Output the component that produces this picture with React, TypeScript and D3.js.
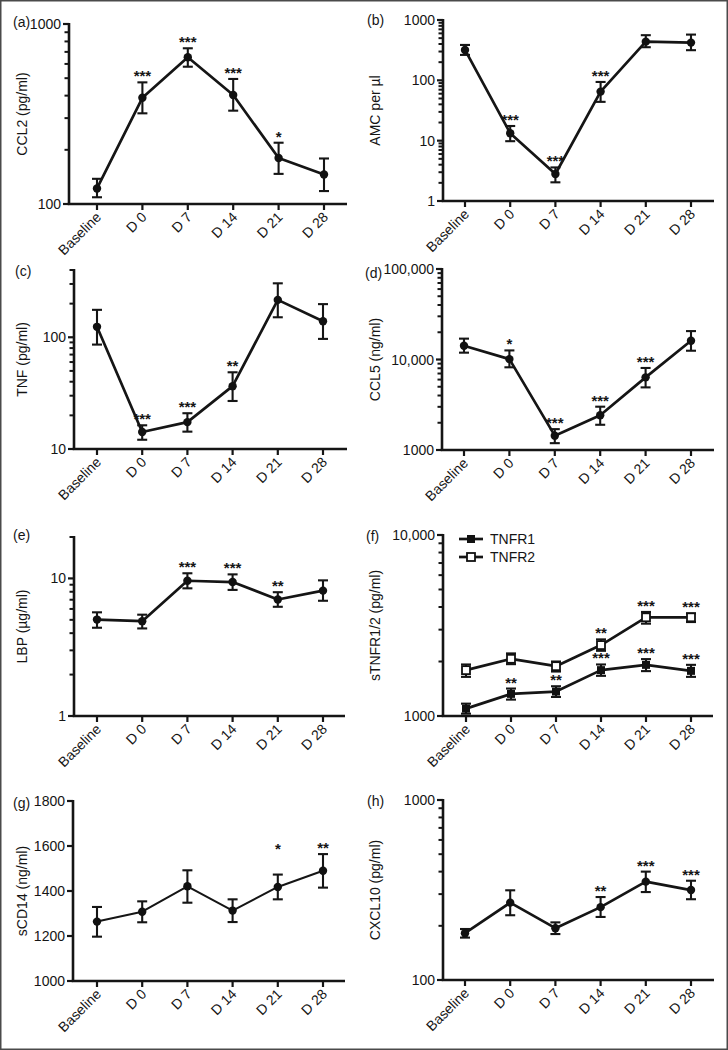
import React from "react";
import * as d3 from "d3";

// ---------- DATA ----------
const days = ["Baseline", "D 0", "D 7", "D 14", "D 21", "D 28"];

const ccl2Mean = [122, 389, 653, 403, 180, 146];
const ccl2Lo = [109, 319, 579, 330, 147, 118];
const ccl2Hi = [138, 474, 733, 495, 219, 179];
const ccl2Sig = ["", "***", "***", "***", "*", ""];

const amcMean = [319, 13.3, 2.8, 65, 438, 422];
const amcLo = [264, 9.8, 2.04, 44, 354, 316];
const amcHi = [386, 17.5, 3.6, 94, 560, 573];
const amcSig = ["", "***", "***", "***", "", ""];

const tnfMean = [124, 14.2, 17.4, 36.5, 216, 139];
const tnfLo = [86, 12.1, 14.3, 26.9, 151, 96.7];
const tnfHi = [176, 16.3, 20.9, 48.6, 304, 198];
const tnfSig = ["", "***", "***", "**", "", ""];

const ccl5Mean = [14200, 10100, 1440, 2420, 6350, 16100];
const ccl5Lo = [11900, 8200, 1190, 1900, 4920, 12500];
const ccl5Hi = [17000, 12600, 1700, 3010, 8060, 20600];
const ccl5Sig = ["", "*", "***", "***", "***", ""];

const lbpMean = [5.02, 4.89, 9.62, 9.41, 7.03, 8.15];
const lbpLo = [4.38, 4.33, 8.47, 8.25, 6.22, 6.88];
const lbpHi = [5.67, 5.45, 10.9, 10.7, 7.94, 9.68];
const lbpSig = ["", "", "***", "***", "**", ""];

const tnfr1Mean = [1098, 1325, 1365, 1792, 1917, 1776];
const tnfr1Lo = [1030, 1232, 1274, 1667, 1770, 1645];
const tnfr1Hi = [1170, 1418, 1460, 1926, 2062, 1917];
const tnfr1Sig = ["", "**", "**", "***", "***", "***"];

const tnfr2Mean = [1792, 2070, 1885, 2465, 3510, 3510];
const tnfr2Lo = [1645, 1934, 1761, 2292, 3237, 3305];
const tnfr2Hi = [1926, 2217, 2000, 2650, 3757, 3690];
const tnfr2Sig = ["", "", "", "**", "***", "***"];

const scd14Mean = [1264, 1308, 1421, 1313, 1418, 1490];
const scd14Lo = [1197, 1261, 1348, 1262, 1363, 1415];
const scd14Hi = [1329, 1354, 1492, 1363, 1473, 1564];
const scd14Sig = ["", "", "", "", "*", "**"];
// value level (data units) where an asterisk is anchored when it is raised above its bar
const scd14SigAt = [null, null, null, null, 1560, null];

const cxcl10Mean = [182, 269, 194, 254, 352, 316];
const cxcl10Lo = [172, 229, 180, 224, 308, 281];
const cxcl10Hi = [192, 315, 209, 289, 400, 356];
const cxcl10Sig = ["", "", "", "**", "***", "***"];

const ticksA = [100, 1000];
const ticksB = [1, 10, 100, 1000];
const ticksC = [10, 100];
const ticksD = [1000, 10000, 100000];
const ticksE = [1, 10];
const ticksF = [1000, 10000];
const ticksG = [1000, 1200, 1400, 1600, 1800];
const ticksH = [100, 1000];

const legendNames = ["TNFR1", "TNFR2"];

// ---------- LAYOUT ----------
const FONT = "'Liberation Sans', Arial, Helvetica, sans-serif";
const FS = 14;

type Series = {
  mean: number[];
  lo: number[];
  hi: number[];
  sig: string[];
  sigAt?: (number | null)[];
  marker: "dot" | "filled" | "open";
};

type PanelCfg = {
  tag: string;
  title: string;
  log: boolean;
  domain: [number, number];
  ticks: number[];
  x0: number;
  x1: number;
  yTop: number;
  yBot: number;
  c0: number;
  c1: number;
  tagX: number;
  tagY: number;
  titleX: number;
  series: Series[];
  lineW: number;
  legend?: boolean;
};

const panels: PanelCfg[] = [
  {
    tag: "(a)", title: "CCL2 (pg/ml)", log: true, domain: [100, 1000], ticks: ticksA,
    x0: 69, x1: 347, yTop: 24, yBot: 204, c0: 97, c1: 324, tagX: 13, tagY: 27, titleX: 22,
    series: [{ mean: ccl2Mean, lo: ccl2Lo, hi: ccl2Hi, sig: ccl2Sig, marker: "dot" }], lineW: 2.7,
  },
  {
    tag: "(b)", title: "AMC per µl", log: true, domain: [1, 1000], ticks: ticksB,
    x0: 443, x1: 714, yTop: 20, yBot: 201, c0: 465, c1: 691, tagX: 367, tagY: 25, titleX: 375,
    series: [{ mean: amcMean, lo: amcLo, hi: amcHi, sig: amcSig, marker: "dot" }], lineW: 2.7,
  },
  {
    tag: "(c)", title: "TNF (pg/ml)", log: true, domain: [10, 400], ticks: ticksC,
    x0: 74, x1: 347, yTop: 270, yBot: 449, c0: 97, c1: 323, tagX: 15, tagY: 276, titleX: 22,
    series: [{ mean: tnfMean, lo: tnfLo, hi: tnfHi, sig: tnfSig, marker: "dot" }], lineW: 2.7,
  },
  {
    tag: "(d)", title: "CCL5 (ng/ml)", log: true, domain: [1000, 100000], ticks: ticksD,
    x0: 442, x1: 714, yTop: 269, yBot: 450, c0: 464, c1: 691, tagX: 365, tagY: 278, titleX: 375,
    series: [{ mean: ccl5Mean, lo: ccl5Lo, hi: ccl5Hi, sig: ccl5Sig, marker: "dot" }], lineW: 2.7,
  },
  {
    tag: "(e)", title: "LBP (µg/ml)", log: true, domain: [1, 20], ticks: ticksE,
    x0: 74, x1: 345, yTop: 537, yBot: 716, c0: 97, c1: 323, tagX: 13, tagY: 540, titleX: 22,
    series: [{ mean: lbpMean, lo: lbpLo, hi: lbpHi, sig: lbpSig, marker: "dot" }], lineW: 2.7,
  },
  {
    tag: "(f)", title: "sTNFR1/2 (pg/ml)", log: true, domain: [1000, 10000], ticks: ticksF,
    x0: 443, x1: 713, yTop: 535, yBot: 716, c0: 466, c1: 691, tagX: 366, tagY: 541, titleX: 375,
    series: [
      { mean: tnfr1Mean, lo: tnfr1Lo, hi: tnfr1Hi, sig: tnfr1Sig, marker: "filled" },
      { mean: tnfr2Mean, lo: tnfr2Lo, hi: tnfr2Hi, sig: tnfr2Sig, marker: "open" },
    ],
    lineW: 2.7, legend: true,
  },
  {
    tag: "(g)", title: "sCD14 (ng/ml)", log: false, domain: [1000, 1800], ticks: ticksG,
    x0: 73, x1: 345, yTop: 801, yBot: 981, c0: 97, c1: 323, tagX: 13, tagY: 808, titleX: 22,
    series: [{ mean: scd14Mean, lo: scd14Lo, hi: scd14Hi, sig: scd14Sig, sigAt: scd14SigAt, marker: "dot" }],
    lineW: 2,
  },
  {
    tag: "(h)", title: "CXCL10 (pg/ml)", log: true, domain: [100, 1000], ticks: ticksH,
    x0: 443, x1: 714, yTop: 800, yBot: 980, c0: 465, c1: 691, tagX: 367, tagY: 806, titleX: 375,
    series: [{ mean: cxcl10Mean, lo: cxcl10Lo, hi: cxcl10Hi, sig: cxcl10Sig, marker: "dot" }], lineW: 2.7,
  },
];

const fmtBig = d3.format(",");
const fmt = (v: number) => (v >= 10000 ? fmtBig(v) : String(v));

function minorTicks(domain: [number, number]): number[] {
  const out: number[] = [];
  const [lo, hi] = domain;
  for (let p = Math.floor(Math.log10(lo)); p <= Math.ceil(Math.log10(hi)); p++) {
    const base = Math.pow(10, p);
    for (let m = 2; m <= 9; m++) {
      const v = m * base;
      if (v > lo && v <= hi * 1.0001) out.push(v);
    }
  }
  return out;
}

function Marker({ x, y, kind }: { x: number; y: number; kind: string }) {
  if (kind === "dot") return <circle cx={x} cy={y} r={4.2} fill="#111" />;
  if (kind === "filled") return <rect x={x - 4} y={y - 4} width={8} height={8} fill="#111" />;
  return <rect x={x - 4} y={y - 4} width={8} height={8} fill="#fff" stroke="#111" strokeWidth={1.8} />;
}

function Panel({ cfg }: { cfg: PanelCfg }) {
  const y = cfg.log
    ? d3.scaleLog().domain(cfg.domain).range([cfg.yBot, cfg.yTop])
    : d3.scaleLinear().domain(cfg.domain).range([cfg.yBot, cfg.yTop]);
  const x = d3.scalePoint<string>().domain(days).range([cfg.c0, cfg.c1]);
  const line = d3
    .line<number>()
    .x((_, i) => x(days[i]) as number)
    .y((d) => y(d));
  const minors = cfg.log ? minorTicks(cfg.domain).filter((v) => !cfg.ticks.includes(v)) : [];
  const ink = "#151515";

  return (
    <g fontFamily={FONT} fill={ink}>
      <text x={cfg.tagX} y={cfg.tagY} fontSize={FS}>{cfg.tag}</text>
      <text
        transform={`translate(${cfg.titleX},${(cfg.yTop + cfg.yBot) / 2}) rotate(-90)`}
        textAnchor="middle"
        dominantBaseline="central"
        fontSize={FS}
      >
        {cfg.title}
      </text>
      <line x1={cfg.x0} x2={cfg.x0} y1={cfg.yTop - 1} y2={cfg.yBot} stroke={ink} strokeWidth={2.6} />
      <line x1={cfg.x0 - 1.3} x2={cfg.x1} y1={cfg.yBot} y2={cfg.yBot} stroke={ink} strokeWidth={2.6} />
      {cfg.ticks.map((t) => (
        <g key={"t" + t}>
          <line x1={cfg.x0 - 6} x2={cfg.x0} y1={y(t)} y2={y(t)} stroke={ink} strokeWidth={2.2} />
          <text x={cfg.x0 - 8} y={y(t)} dy="0.36em" textAnchor="end" fontSize={FS}>
            {fmt(t)}
          </text>
        </g>
      ))}
      {minors.map((t) => (
        <line key={"m" + t} x1={cfg.x0 - 4.5} x2={cfg.x0} y1={y(t)} y2={y(t)} stroke={ink} strokeWidth={2} />
      ))}
      {days.map((d) => {
        const cx = x(d) as number;
        return (
          <g key={"x" + d}>
            <line x1={cx} x2={cx} y1={cfg.yBot} y2={cfg.yBot + 6} stroke={ink} strokeWidth={2.2} />
            <text
              transform={`translate(${cx + 5},${cfg.yBot + 14}) rotate(-45)`}
              textAnchor="end"
              fontSize={FS}
            >
              {d}
            </text>
          </g>
        );
      })}
      {cfg.series.map((s, si) => (
        <g key={"s" + si}>
          <path d={line(s.mean) || ""} fill="none" stroke={ink} strokeWidth={cfg.lineW} strokeLinejoin="round" />
          {s.mean.map((m, i) => {
            const cx = x(days[i]) as number;
            return (
              <g key={i}>
                <line x1={cx} x2={cx} y1={y(s.lo[i])} y2={y(s.hi[i])} stroke={ink} strokeWidth={2.1} />
                <line x1={cx - 5} x2={cx + 5} y1={y(s.hi[i])} y2={y(s.hi[i])} stroke={ink} strokeWidth={2.1} />
                <line x1={cx - 5} x2={cx + 5} y1={y(s.lo[i])} y2={y(s.lo[i])} stroke={ink} strokeWidth={2.1} />
                <Marker x={cx} y={y(m)} kind={s.marker} />
              </g>
            );
          })}
          {s.sig.map((g, i) => {
            if (!g) return null;
            const cx = x(days[i]) as number;
            const at = s.sigAt && s.sigAt[i] != null ? (s.sigAt[i] as number) : s.hi[i];
            return (
              <text key={"g" + i} x={cx} y={y(at) - 1} textAnchor="middle" fontSize={15} fontWeight="bold">
                {g}
              </text>
            );
          })}
        </g>
      ))}
      {cfg.legend &&
        legendNames.map((n, i) => {
          const ly = cfg.yTop + 4 + i * 18;
          return (
            <g key={n}>
              <line x1={cfg.x0 + 16} x2={cfg.x0 + 40} y1={ly} y2={ly} stroke={ink} strokeWidth={2.7} />
              <Marker x={cfg.x0 + 28} y={ly} kind={i === 0 ? "filled" : "open"} />
              <text x={cfg.x0 + 47} y={ly} dy="0.36em" fontSize={FS}>
                {n}
              </text>
            </g>
          );
        })}
    </g>
  );
}

export default function App() {
  return (
    <svg
      width={728}
      height={1050}
      style={{ position: "absolute", left: 0, top: 0, background: "#fff" }}
    >
      <rect x={0} y={0} width={728} height={1050} fill="#fff" />
      {panels.map((p) => (
        <Panel key={p.tag} cfg={p} />
      ))}
      <rect x={0.75} y={0.75} width={726.5} height={1048.5} fill="none" stroke="#4a4a4a" strokeWidth={1.5} />
    </svg>
  );
}
